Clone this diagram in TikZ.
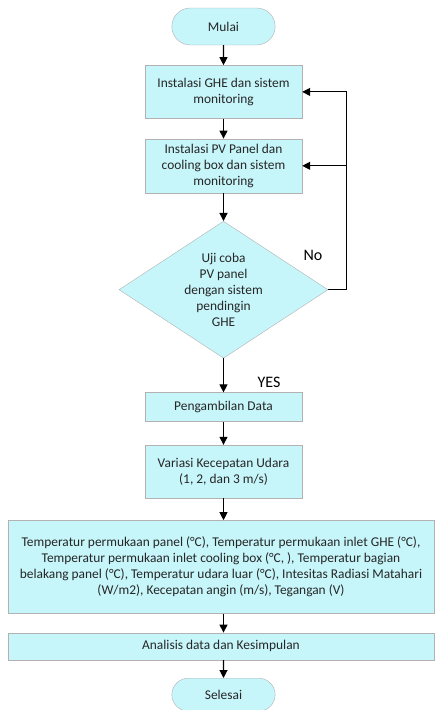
\documentclass[tikz,border=0pt]{standalone}
\usepackage{fontspec}
\setmainfont{Carlito}
\usepackage{tikz}
\usetikzlibrary{arrows.meta, positioning, shapes.geometric, shapes.misc}
\definecolor{boxfill}{RGB}{198,245,250}
\tikzstyle{process}=[rectangle, draw=gray!60, fill=boxfill, text=black!85, align=center, minimum width=157pt, inner sep=0pt]
\tikzstyle{decision}=[diamond, aspect=1.5, draw=gray!60, fill=boxfill, text=black!85, align=center, inner sep=0pt, minimum width=209pt, minimum height=137pt]
\tikzstyle{terminal}=[rounded rectangle, draw=gray!60, fill=boxfill, text=black!85, minimum width=110pt, minimum height=37pt]
\tikzstyle{flow}=[-{Triangle[length=8pt, width=8pt]}, line width=1.1pt]
\tikzstyle{answer}=[font=\fontsize{16}{18}\selectfont]

\begin{document}
\begin{tikzpicture}[font=\fontsize{13.4}{16}\selectfont]
        \useasboundingbox (0,0) rectangle (435pt,-710pt);
        \node[terminal] (mulai) at (223.5pt,-26.5pt) {Mulai};
        \node[process, minimum height=53pt] (ghe) [below=20pt of mulai] {Instalasi GHE dan sistem\\monitoring};
        \node[process, minimum height=54pt] (pv) [below=20pt of ghe] {Instalasi PV Panel dan\\cooling box dan sistem\\monitoring};
        \node[decision] (uji) [below=28pt of pv] {Uji coba\\PV panel\\dengan sistem\\pendingin\\GHE};
        \node[process, minimum height=29pt] (ambil) [below=34pt of uji] {Pengambilan Data};
        \node[process, minimum height=53pt] (variasi) [below=23pt of ambil] {Variasi Kecepatan Udara\\(1, 2, dan 3 m/s)};
        \node[process, minimum width=426pt, minimum height=93pt] (param) [below=22pt of variasi, xshift=-2.5pt]
            {Temperatur permukaan panel (°C), Temperatur permukaan inlet GHE (°C),\\
             Temperatur permukaan inlet cooling box (°C, ), Temperatur bagian\\
             belakang panel (°C), Temperatur udara luar (°C), Intesitas Radiasi Matahari\\
             (W/m2), Kecepatan angin (m/s), Tegangan (V)};
        \node[process, minimum width=426pt, minimum height=27pt] (analisis) [below=19pt of param] {Analisis data dan Kesimpulan};
        \node[terminal, minimum height=33pt] (selesai) [below=18pt of analisis, xshift=2.5pt] {Selesai};

        \node[answer] (no) at (313pt,-255pt) {No};
        \node[answer] (yes) at (269pt,-382pt) {YES};
        \coordinate[right=18pt of uji.east] (loop);

        \draw[flow] (mulai) -- (ghe);
        \draw[flow] (ghe) -- (pv);
        \draw[flow] (pv) -- (uji);
        \draw[flow] (uji) -- (ambil);
        \draw[flow] (ambil) -- (variasi);
        \draw[flow] (variasi) -- (variasi |- param.north);
        \draw[flow] (param.south -| variasi) -- (variasi |- analisis.north);
        \draw[flow] (analisis.south -| selesai) -- (selesai);
        \draw[flow] (uji.east) -- (loop) |- (ghe.east);
        \draw[flow] (loop |- pv.east) -- (pv.east);
\end{tikzpicture}
\end{document}
